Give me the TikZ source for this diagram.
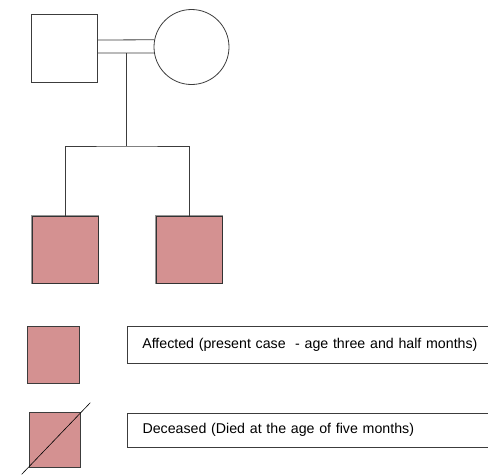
\documentclass[tikz,border=0pt]{standalone}
\usepackage{fontspec}
\setmainfont{Liberation Sans}
\usetikzlibrary{positioning,calc}
\usepackage{xcolor}
\definecolor{pedline}{RGB}{60,60,60}
\definecolor{pedhalo}{RGB}{150,150,150}
\definecolor{affectedpink}{RGB}{212,145,145}

\begin{document}
\begin{tikzpicture}[x=1pt,y=-1pt,
  male/.style={rectangle,draw=pedline,line width=0.8pt,fill=white,inner sep=0pt},
  female/.style={circle,draw=pedline,line width=0.8pt,fill=white,inner sep=0pt,minimum size=75pt},
  affected/.style={rectangle,draw=black!80,line width=0.8pt,fill=affectedpink,inner sep=0pt,
    preaction={draw=pedhalo,line width=2.2pt}},
  legsq/.style={rectangle,draw=pedline,line width=0.6pt,fill=affectedpink,inner sep=0pt},
  legbox/.style={rectangle,draw=pedline,line width=0.6pt,anchor=west,inner xsep=15pt,inner ysep=0pt,
    align=left,font=\fontsize{14.2}{17}\selectfont},
  kinline/.style={draw=pedline,line width=0.8pt}
]
\useasboundingbox (0,0) rectangle (488,475);

% Parents
\node[male,minimum width=66pt,minimum height=68pt] (father) at (64,48) {};
\node[female] (mother) at (191.5,47) {};

% Marriage (double line) and line of descent
\draw[kinline] ([yshift=8pt]father.east) -- (mother.169);
\draw[kinline] ([yshift=-5pt]father.east) -- (mother.189);
\coordinate (mid) at (126.5,53);
\coordinate (sib) at (126.5,146);
\draw[kinline] (mid) -- (sib);

% Affected children
\node[affected,minimum width=66pt,minimum height=67pt] (child1) at (65,249.5) {};
\node[affected,minimum width=66pt,minimum height=67pt] (child2) at (189,249.5) {};
\draw[kinline] (child1.north) |- (sib) -| (child2.north);

% Legend
\node[legsq,minimum width=52pt,minimum height=57pt] (leg1) at (53,354.5) {};
\node[legbox,minimum width=375pt,minimum height=37pt,text width=345pt] (txt1) at (127,344.5)
  {Affected (present case\ \ - age three and half months)};

\node[legbox,minimum width=360.5pt,minimum height=34pt,text width=330pt] (txt2) at (127,430)
  {Deceased (Died at the age of five months)};
\node[legsq,minimum width=51pt,minimum height=55pt] (leg2) at (54.5,439.5) {};
\draw[line width=0.6pt,black] ($(leg2.south west)+(-7,7)$) -- ($(leg2.north east)+(10,-9)$);

\end{tikzpicture}
\end{document}
